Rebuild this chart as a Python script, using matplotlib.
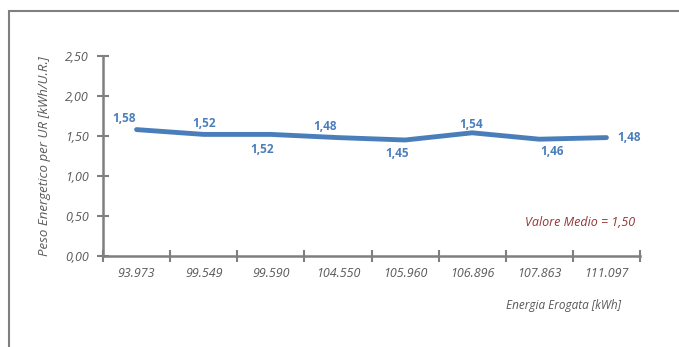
import matplotlib
matplotlib.use("Agg")
import matplotlib.pyplot as plt
from matplotlib.patches import Rectangle

# dati
energia = ["93.973", "99.549", "99.590", "104.550", "105.960", "106.896", "107.863", "111.097"]
peso = [1.58, 1.52, 1.52, 1.48, 1.45, 1.54, 1.46, 1.48]
etichette = ["1,58", "1,52", "1,52", "1,48", "1,45", "1,54", "1,46", "1,48"]
# offset delle etichette (punti)
offset = [(-9, 8), (0, 8), (-6, -11), (-9, 8), (-6, -10), (-1, 6), (9, -9), (16, 0)]
yticks = [0, 0.5, 1.0, 1.5, 2.0, 2.5]
ytick_labels = ["0,00", "0,50", "1,00", "1,50", "2,00", "2,50"]

blu = "#4a7ebb"
grigio = "#595959"
rosso = "#943634"

plt.rcParams["font.family"] = ["Open Sans", "DejaVu Sans"]

fig = plt.figure(figsize=(6.79, 3.47), dpi=100)
fig.patches.append(Rectangle((9 / 679, -0.5), 2, 1.5 - 11 / 347, transform=fig.transFigure,
                             fill=False, edgecolor="#7f7f7f", linewidth=1.5))

ax = fig.add_axes([103 / 679, 1 - 256 / 347, 537 / 679, 200 / 347])
x = list(range(len(peso)))
ax.plot(x, peso, color=blu, linewidth=3.5, solid_capstyle="round", solid_joinstyle="round")

for i in range(len(peso)):
    ax.annotate(etichette[i], (x[i], peso[i]), xytext=offset[i], textcoords="offset points",
                ha="center", va="center", color=blu, fontsize=8.5, fontweight="bold")

ax.set_xlim(-0.5, len(peso) - 0.5)
ax.set_ylim(0, 2.5)
ax.set_yticks(yticks)
ax.set_yticklabels(ytick_labels, fontsize=9, style="italic", color=grigio)
ax.set_xticks([i - 0.5 for i in range(len(peso) + 1)])
ax.set_xticklabels([])
ax.set_xticks(x, minor=True)
ax.set_xticklabels(energia, minor=True, fontsize=9, style="italic", color=grigio)
ax.tick_params(axis="x", which="minor", length=0, pad=8)
ax.tick_params(axis="x", which="major", direction="inout", length=8, width=1.5, color="#7f7f7f")
ax.tick_params(axis="y", direction="inout", length=8, width=1.5, color="#7f7f7f", pad=6)

ax.yaxis.get_major_ticks()[3].tick1line.set_color(rosso)

for s in ["top", "right"]:
    ax.spines[s].set_visible(False)
for s in ["left", "bottom"]:
    ax.spines[s].set_color("#7f7f7f")
    ax.spines[s].set_linewidth(1.8)

ax.set_ylabel("Peso Energetico per UR [kWh/U.R.]", fontsize=9.5, style="italic", color=grigio)
ax.yaxis.set_label_coords(-0.096, 0.5)
fig.text(563 / 679, 1 - 306 / 347, "Energia Erogata [kWh]", ha="center", va="center",
         fontsize=8.5, style="italic", color=grigio)
fig.text(580 / 679, 1 - 223 / 347, "Valore Medio = 1,50", ha="center", va="center",
         fontsize=9, style="italic", color=rosso)

fig.savefig("out.png", dpi=100)
